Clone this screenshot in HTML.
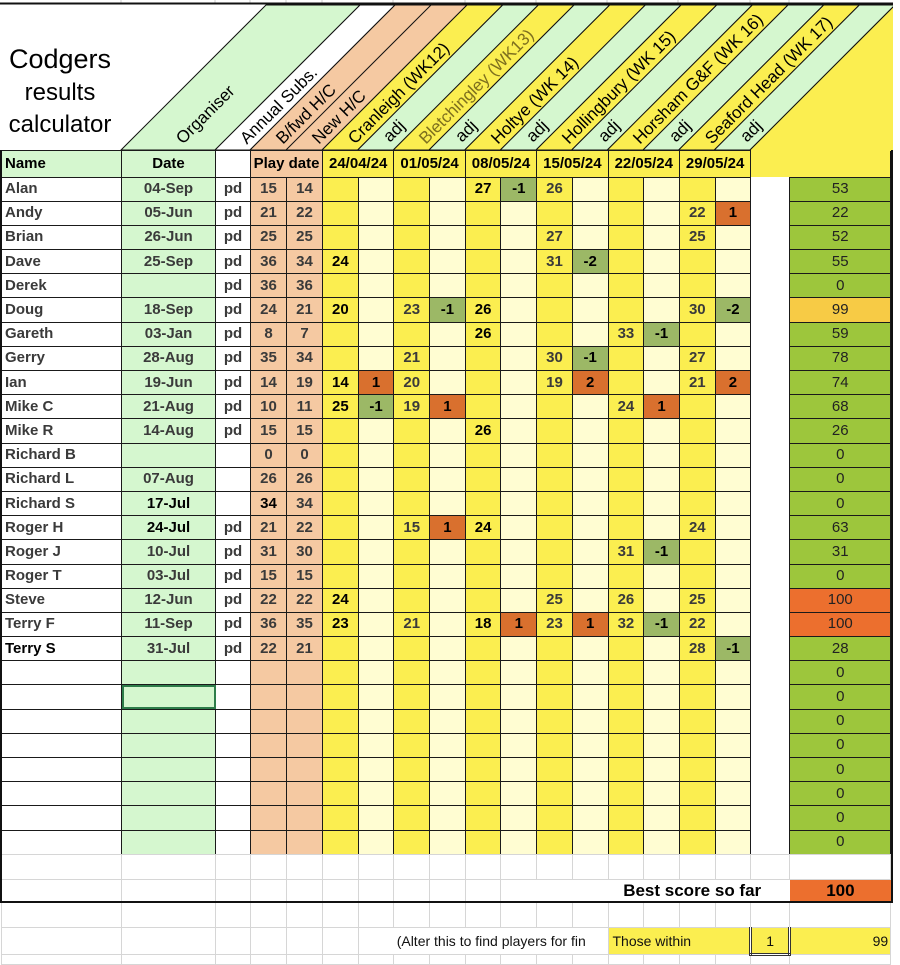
<!DOCTYPE html>
<html><head><meta charset="utf-8">
<style>
body{margin:0;width:900px;height:957px;background:#fff;position:relative;overflow:hidden;font-family:"Liberation Sans",Arial,sans-serif}
svg{position:absolute;left:0;top:0}
table{position:absolute;left:1px;border-collapse:collapse;table-layout:fixed;width:890px}
td{border:1px solid #1a1a1a;padding:0;font-size:15px;font-weight:bold;color:#3a3a3a;text-align:center;overflow:hidden;white-space:nowrap;line-height:20px}
#t tr{height:24.2px}
#t tr.h{height:26.5px}
#t tr.h td{color:#000}
td.n{text-align:left;padding-left:3px}
td.x{border-top:none;border-bottom:none;background:#fff}
td.tot{font-weight:normal;color:#222;font-size:15px}
.b{color:#000}
.o{background:#d9702e!important;color:#000}
.g{background:#9cb866!important;color:#000}
.yo{background:#f7cb45!important}
.or{background:#ec6f2e!important}
.gl td{border-color:#d6d6d6}
.cg{background:#d5f7cf}.cw{background:#fff}.cp{background:#f5c9a2}.cy{background:#fbee50}.cl{background:#fffdd2}.ct{background:#9dc63c}
</style></head><body>
<svg width="900" height="152" viewBox="0 0 900 152" font-family="Liberation Sans, Arial, sans-serif" font-size="17">
<g stroke="#ccc" stroke-width="1">
<line x1="121" y1="0" x2="121" y2="3"/><line x1="215" y1="0" x2="215" y2="3"/><line x1="250" y1="0" x2="250" y2="3"/><line x1="286" y1="0" x2="286" y2="3"/><line x1="322" y1="0" x2="322" y2="3"/><line x1="393" y1="0" x2="393" y2="3"/><line x1="465" y1="0" x2="465" y2="3"/><line x1="536" y1="0" x2="536" y2="3"/><line x1="607" y1="0" x2="607" y2="3"/><line x1="678" y1="0" x2="678" y2="3"/><line x1="750" y1="0" x2="750" y2="3"/><line x1="789" y1="0" x2="789" y2="3"/>
</g>
<defs><clipPath id="c"><rect x="0" y="4" width="893" height="148"/></clipPath></defs>
<g clip-path="url(#c)" stroke="#111" stroke-width="1">
<polygon points="121,150 215,150 360,5 266,5" fill="#d5f7cf"/>
<polygon points="215,150 250,150 395,5 360,5" fill="#fff"/>
<polygon points="250,150 322,150 467,5 395,5" fill="#f5c9a2"/>
<polygon points="286,150 286,150 431,5 431,5"/>
<polygon points="322,150 357.7,150 502.7,5 467,5" fill="#fbee50"/>
<polygon points="357.7,150 393.3,150 538.3,5 502.7,5" fill="#d5f7cf"/>
<polygon points="393.3,150 429,150 574,5 538.3,5" fill="#fbee50"/>
<polygon points="429,150 464.7,150 609.7,5 574,5" fill="#d5f7cf"/>
<polygon points="464.7,150 500.3,150 645.3,5 609.7,5" fill="#fbee50"/>
<polygon points="500.3,150 536,150 681,5 645.3,5" fill="#d5f7cf"/>
<polygon points="536,150 571.7,150 716.7,5 681,5" fill="#fbee50"/>
<polygon points="571.7,150 607.3,150 752.3,5 716.7,5" fill="#d5f7cf"/>
<polygon points="607.3,150 643,150 788,5 752.3,5" fill="#fbee50"/>
<polygon points="643,150 678.7,150 823.7,5 788,5" fill="#d5f7cf"/>
<polygon points="678.7,150 714.3,150 859.3,5 823.7,5" fill="#fbee50"/>
<polygon points="714.3,150 750,150 895,5 859.3,5" fill="#d5f7cf"/>
<polygon points="750,150 895,5 900,5 900,152 750,152" fill="#fbee50" stroke="none"/>
<line x1="750" y1="150" x2="895" y2="5"/>
</g>
<rect x="0" y="2.5" width="893" height="2" fill="#111"/>
<text x="60" y="68" font-size="27" text-anchor="middle">Codgers</text>
<text x="60" y="100" font-size="24" text-anchor="middle">results</text>
<text x="60" y="132" font-size="24" text-anchor="middle">calculator</text>
<g dominant-baseline="central">
<text transform="translate(179,141) rotate(-45)">Organiser</text>
<text transform="translate(243,141) rotate(-45)">Annual Subs.</text>
<text transform="translate(279,141) rotate(-45)">B/fwd H/C</text>
<text transform="translate(315,141) rotate(-45)">New H/C</text>
<text transform="translate(351,141) rotate(-45)">Cranleigh (WK12)</text>
<text transform="translate(386,139) rotate(-45)">adj</text>
<text transform="translate(422,141) rotate(-45)" fill="#7d6f1e">Bletchingley (WK13)</text>
<text transform="translate(458,139) rotate(-45)">adj</text>
<text transform="translate(494,141) rotate(-45)">Holtye (WK 14)</text>
<text transform="translate(529,139) rotate(-45)">adj</text>
<text transform="translate(565,141) rotate(-45)">Hollingbury (WK 15)</text>
<text transform="translate(601,139) rotate(-45)">adj</text>
<text transform="translate(636,141) rotate(-45)">Horsham G&amp;F (WK 16)</text>
<text transform="translate(672,139) rotate(-45)">adj</text>
<text transform="translate(708,141) rotate(-45)">Seaford Head (WK 17)</text>
<text transform="translate(743,139) rotate(-45)">adj</text>
</g>
</svg>

<table id="t" style="top:150px">
<colgroup><col style="width:120px" class="cw"><col style="width:94px" class="cg"><col style="width:35px" class="cw"><col style="width:36px" class="cp"><col style="width:36px" class="cp"><col style="width:35.7px" class="cy"><col style="width:35.7px" class="cl"><col style="width:35.7px" class="cy"><col style="width:35.7px" class="cl"><col style="width:35.7px" class="cy"><col style="width:35.7px" class="cl"><col style="width:35.7px" class="cy"><col style="width:35.7px" class="cl"><col style="width:35.7px" class="cy"><col style="width:35.7px" class="cl"><col style="width:35.7px" class="cy"><col style="width:35.6px" class="cl"><col style="width:39px"><col style="width:101px" class="ct"></colgroup>
<tr class="h"><td class="n cg">Name</td><td>Date</td><td></td><td colspan="2" style="font-size:15px">Play date</td><td colspan="2">24/04/24</td><td colspan="2" class="cy">01/05/24</td><td colspan="2">08/05/24</td><td colspan="2" class="cy">15/05/24</td><td colspan="2">22/05/24</td><td colspan="2" class="cy">29/05/24</td><td colspan="2" class="cy" style="border:none;border-right:2px solid #111"></td></tr>
<tr><td class="n">Alan</td><td>04-Sep</td><td>pd</td><td>15</td><td>14</td><td></td><td></td><td></td><td></td><td class="b">27</td><td class="g">-1</td><td>26</td><td></td><td></td><td></td><td></td><td></td><td class="x"></td><td class="tot">53</td></tr>
<tr><td class="n">Andy</td><td>05-Jun</td><td>pd</td><td>21</td><td>22</td><td></td><td></td><td></td><td></td><td></td><td></td><td></td><td></td><td></td><td></td><td>22</td><td class="o">1</td><td class="x"></td><td class="tot">22</td></tr>
<tr><td class="n">Brian</td><td>26-Jun</td><td>pd</td><td>25</td><td>25</td><td></td><td></td><td></td><td></td><td></td><td></td><td>27</td><td></td><td></td><td></td><td>25</td><td></td><td class="x"></td><td class="tot">52</td></tr>
<tr><td class="n">Dave</td><td>25-Sep</td><td>pd</td><td>36</td><td>34</td><td class="b">24</td><td></td><td></td><td></td><td></td><td></td><td>31</td><td class="g">-2</td><td></td><td></td><td></td><td></td><td class="x"></td><td class="tot">55</td></tr>
<tr><td class="n">Derek</td><td></td><td>pd</td><td>36</td><td>36</td><td></td><td></td><td></td><td></td><td></td><td></td><td></td><td></td><td></td><td></td><td></td><td></td><td class="x"></td><td class="tot">0</td></tr>
<tr><td class="n">Doug</td><td>18-Sep</td><td>pd</td><td>24</td><td>21</td><td class="b">20</td><td></td><td>23</td><td class="g">-1</td><td class="b">26</td><td></td><td></td><td></td><td></td><td></td><td>30</td><td class="g">-2</td><td class="x"></td><td class="tot yo">99</td></tr>
<tr><td class="n">Gareth</td><td>03-Jan</td><td>pd</td><td>8</td><td>7</td><td></td><td></td><td></td><td></td><td class="b">26</td><td></td><td></td><td></td><td>33</td><td class="g">-1</td><td></td><td></td><td class="x"></td><td class="tot">59</td></tr>
<tr><td class="n">Gerry</td><td>28-Aug</td><td>pd</td><td>35</td><td>34</td><td></td><td></td><td>21</td><td></td><td></td><td></td><td>30</td><td class="g">-1</td><td></td><td></td><td>27</td><td></td><td class="x"></td><td class="tot">78</td></tr>
<tr><td class="n">Ian</td><td>19-Jun</td><td>pd</td><td>14</td><td>19</td><td class="b">14</td><td class="o">1</td><td>20</td><td></td><td></td><td></td><td>19</td><td class="o">2</td><td></td><td></td><td>21</td><td class="o">2</td><td class="x"></td><td class="tot">74</td></tr>
<tr><td class="n">Mike C</td><td>21-Aug</td><td>pd</td><td>10</td><td>11</td><td class="b">25</td><td class="g">-1</td><td>19</td><td class="o">1</td><td></td><td></td><td></td><td></td><td>24</td><td class="o">1</td><td></td><td></td><td class="x"></td><td class="tot">68</td></tr>
<tr><td class="n">Mike R</td><td>14-Aug</td><td>pd</td><td>15</td><td>15</td><td></td><td></td><td></td><td></td><td class="b">26</td><td></td><td></td><td></td><td></td><td></td><td></td><td></td><td class="x"></td><td class="tot">26</td></tr>
<tr><td class="n">Richard B</td><td></td><td></td><td>0</td><td>0</td><td></td><td></td><td></td><td></td><td></td><td></td><td></td><td></td><td></td><td></td><td></td><td></td><td class="x"></td><td class="tot">0</td></tr>
<tr><td class="n">Richard L</td><td>07-Aug</td><td></td><td>26</td><td>26</td><td></td><td></td><td></td><td></td><td></td><td></td><td></td><td></td><td></td><td></td><td></td><td></td><td class="x"></td><td class="tot">0</td></tr>
<tr><td class="n">Richard S</td><td class="b">17-Jul</td><td></td><td class="b">34</td><td>34</td><td></td><td></td><td></td><td></td><td></td><td></td><td></td><td></td><td></td><td></td><td></td><td></td><td class="x"></td><td class="tot">0</td></tr>
<tr><td class="n">Roger H</td><td class="b">24-Jul</td><td>pd</td><td>21</td><td>22</td><td></td><td></td><td>15</td><td class="o">1</td><td class="b">24</td><td></td><td></td><td></td><td></td><td></td><td>24</td><td></td><td class="x"></td><td class="tot">63</td></tr>
<tr><td class="n">Roger J</td><td>10-Jul</td><td>pd</td><td>31</td><td>30</td><td></td><td></td><td></td><td></td><td></td><td></td><td></td><td></td><td>31</td><td class="g">-1</td><td></td><td></td><td class="x"></td><td class="tot">31</td></tr>
<tr><td class="n">Roger T</td><td>03-Jul</td><td>pd</td><td>15</td><td>15</td><td></td><td></td><td></td><td></td><td></td><td></td><td></td><td></td><td></td><td></td><td></td><td></td><td class="x"></td><td class="tot">0</td></tr>
<tr><td class="n">Steve</td><td>12-Jun</td><td>pd</td><td>22</td><td>22</td><td class="b">24</td><td></td><td></td><td></td><td></td><td></td><td>25</td><td></td><td>26</td><td></td><td>25</td><td></td><td class="x"></td><td class="tot or">100</td></tr>
<tr><td class="n">Terry F</td><td>11-Sep</td><td>pd</td><td>36</td><td>35</td><td class="b">23</td><td></td><td>21</td><td></td><td class="b">18</td><td class="o">1</td><td>23</td><td class="o">1</td><td>32</td><td class="g">-1</td><td>22</td><td></td><td class="x"></td><td class="tot or">100</td></tr>
<tr><td class="n b">Terry S</td><td>31-Jul</td><td>pd</td><td>22</td><td>21</td><td></td><td></td><td></td><td></td><td></td><td></td><td></td><td></td><td></td><td></td><td>28</td><td class="g">-1</td><td class="x"></td><td class="tot">28</td></tr>
<tr><td class="n"></td><td></td><td></td><td></td><td></td><td></td><td></td><td></td><td></td><td></td><td></td><td></td><td></td><td></td><td></td><td></td><td></td><td class="x"></td><td class="tot">0</td></tr>
<tr><td class="n"></td><td style="outline:2px solid #2e7d4a;outline-offset:-2px"></td><td></td><td></td><td></td><td></td><td></td><td></td><td></td><td></td><td></td><td></td><td></td><td></td><td></td><td></td><td></td><td class="x"></td><td class="tot">0</td></tr>
<tr><td class="n"></td><td></td><td></td><td></td><td></td><td></td><td></td><td></td><td></td><td></td><td></td><td></td><td></td><td></td><td></td><td></td><td></td><td class="x"></td><td class="tot">0</td></tr>
<tr><td class="n"></td><td></td><td></td><td></td><td></td><td></td><td></td><td></td><td></td><td></td><td></td><td></td><td></td><td></td><td></td><td></td><td></td><td class="x"></td><td class="tot">0</td></tr>
<tr><td class="n"></td><td></td><td></td><td></td><td></td><td></td><td></td><td></td><td></td><td></td><td></td><td></td><td></td><td></td><td></td><td></td><td></td><td class="x"></td><td class="tot">0</td></tr>
<tr><td class="n"></td><td></td><td></td><td></td><td></td><td></td><td></td><td></td><td></td><td></td><td></td><td></td><td></td><td></td><td></td><td></td><td></td><td class="x"></td><td class="tot">0</td></tr>
<tr><td class="n"></td><td></td><td></td><td></td><td></td><td></td><td></td><td></td><td></td><td></td><td></td><td></td><td></td><td></td><td></td><td></td><td></td><td class="x"></td><td class="tot">0</td></tr>
<tr><td class="n"></td><td></td><td></td><td></td><td></td><td></td><td></td><td></td><td></td><td></td><td></td><td></td><td></td><td></td><td></td><td></td><td></td><td class="x"></td><td class="tot">0</td></tr>
</table>

<table style="top:854px" class="gl">
<colgroup><col style="width:120px"><col style="width:94px"><col style="width:35px"><col style="width:36px"><col style="width:36px"><col style="width:35.7px"><col style="width:35.7px"><col style="width:35.7px"><col style="width:35.7px"><col style="width:35.7px"><col style="width:35.7px"><col style="width:35.7px"><col style="width:35.7px"><col style="width:35.7px"><col style="width:35.7px"><col style="width:35.7px"><col style="width:35.6px"><col style="width:39px"><col style="width:101px"></colgroup>
<tr style="height:25px"><td></td><td></td><td></td><td></td><td></td><td></td><td></td><td></td><td></td><td></td><td></td><td></td><td></td><td></td><td></td><td></td><td></td><td></td><td></td></tr>
<tr style="height:23px"><td></td><td></td><td></td><td></td><td></td><td></td><td></td><td></td><td></td><td></td><td colspan="8" style="text-align:right;padding-right:28px;font-size:17px;color:#000;border-color:#fff">Best score so far</td><td class="or" style="font-size:17px;color:#000;border:none">100</td></tr>
<tr style="height:25px"><td></td><td></td><td></td><td></td><td></td><td></td><td></td><td></td><td></td><td></td><td></td><td></td><td></td><td></td><td></td><td></td><td></td><td></td><td></td></tr>
<tr style="height:27px"><td></td><td></td><td></td><td></td><td></td><td></td><td colspan="7" style="text-align:left;font-weight:normal;font-size:14px;color:#111;padding-left:38px">(Alter this to find players for fin</td><td colspan="4" style="background:#fbee50;text-align:left;font-weight:normal;font-size:14px;color:#111;padding-left:4px">Those within</td><td style="background:#fbee50;font-weight:normal;font-size:14px;color:#111;border:3px double #333;border-top:none">1</td><td style="background:#fbee50;text-align:right;font-weight:normal;font-size:14px;color:#111;padding-right:2px">99</td></tr>
<tr style="height:10px"><td></td><td></td><td></td><td></td><td></td><td></td><td></td><td></td><td></td><td></td><td></td><td></td><td></td><td></td><td></td><td></td><td></td><td></td><td></td></tr>
</table>

<div style="position:absolute;left:0;top:150px;width:2px;height:753px;background:#111"></div>
<div style="position:absolute;left:891px;top:150px;width:2px;height:753px;background:#111"></div>
<div style="position:absolute;left:0;top:901px;width:893px;height:2px;background:#111"></div>
</body></html>
